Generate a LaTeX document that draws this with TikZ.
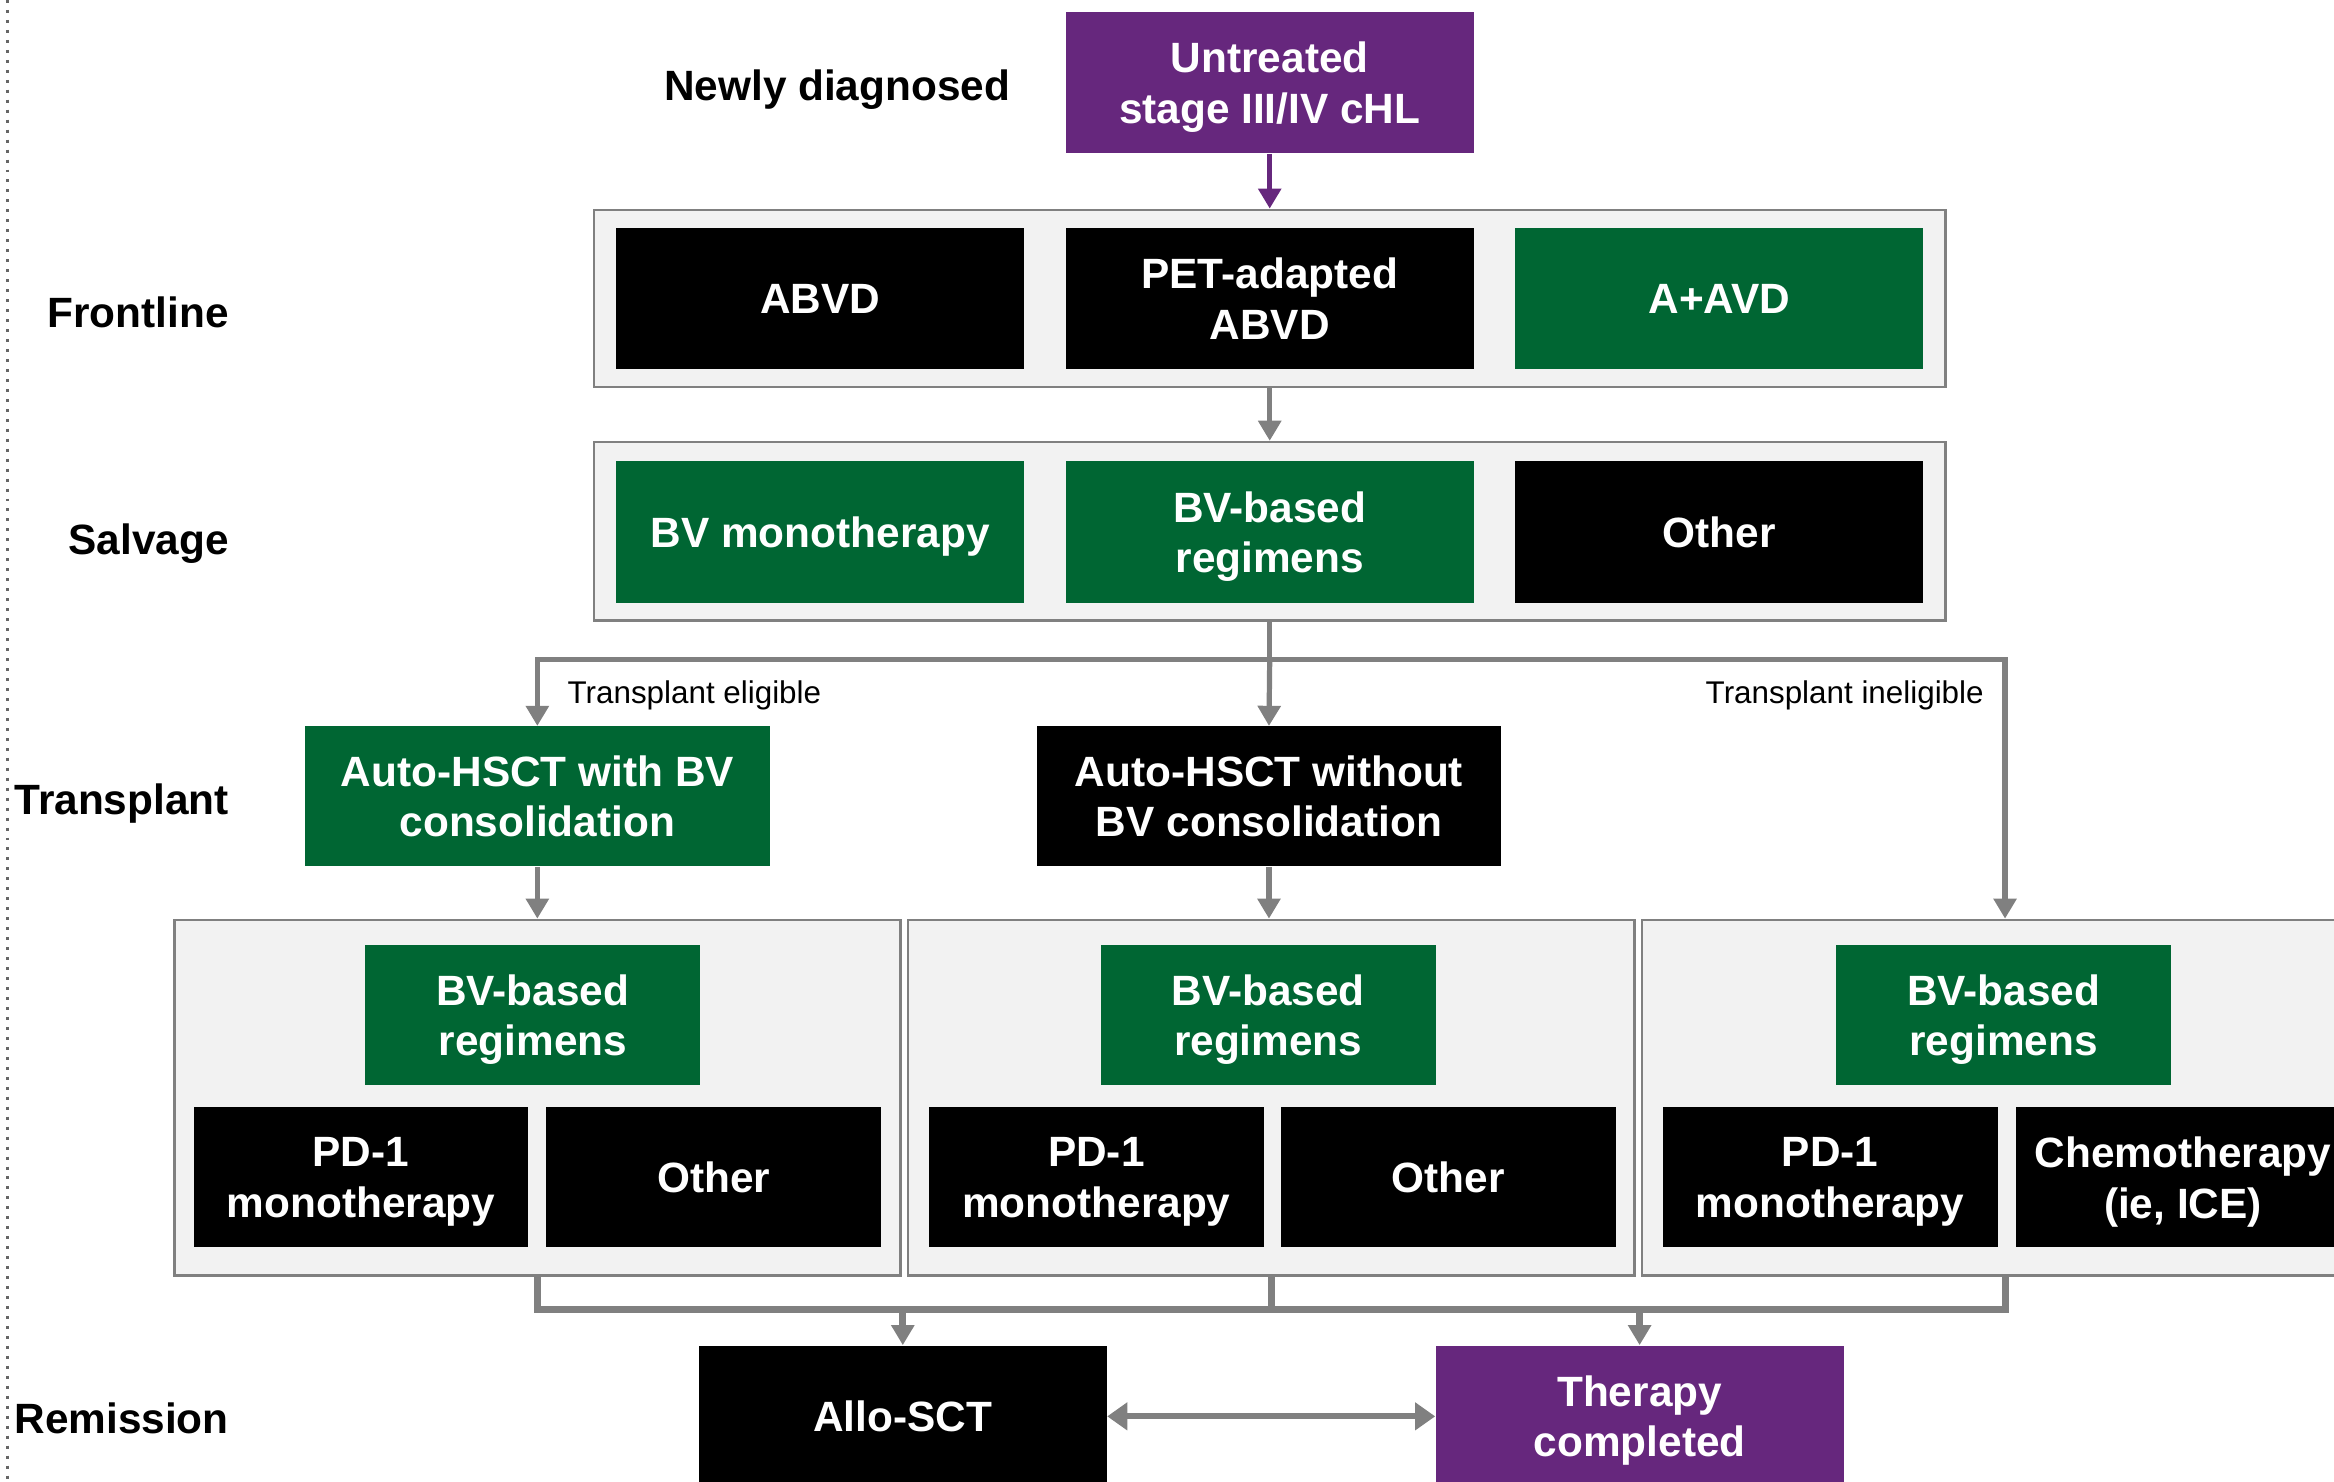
\documentclass[tikz,border=0pt]{standalone}
\usepackage{fontspec}
\setmainfont{Liberation Sans}
\usetikzlibrary{arrows.meta}
\definecolor{cpurple}{HTML}{66277D}
\definecolor{cgreen}{HTML}{006633}
\definecolor{cgrey}{HTML}{808080}
\definecolor{cpanel}{HTML}{F2F2F2}
\begin{document}
\begin{tikzpicture}[x=0.02cm,y=-0.02cm,
	every node/.style={inner sep=0pt,align=center},
	box/.style={text=white,font=\fontsize{16.2}{19.3}\selectfont\bfseries,text depth=0pt,minimum height=1.9cm},
	wide/.style={box,minimum width=5.48cm},
	auto/.style={box,minimum width=6.24cm,minimum height=1.88cm},
	small/.style={box,minimum width=4.5cm,minimum height=1.88cm},
	panel/.style={draw=cgrey,line width=0.035cm,fill=cpanel},
	rowlabel/.style={anchor=east,text depth=0pt,font=\fontsize{16.2}{19.3}\selectfont\bfseries},
	note/.style={font=\fontsize{12}{14}\selectfont},
	conn/.style={draw=cgrey,line width=0.07cm},
	arr/.style={conn,-{Triangle[length=0.27cm,width=0.3cm]}},
	thick conn/.style={conn,line width=0.095cm}]
	\useasboundingbox (0,0) rectangle (1568,995);
	\clip (0,0) rectangle (1568,995);
	\draw [black!60,line width=0.04cm,dash pattern=on 0.04cm off 0.094cm] (5,0) -- (5,995);
	\node [rowlabel] (lnew) at (679,57) {Newly diagnosed};
	\node [rowlabel] (lfront) at (154,210) {Frontline};
	\node [rowlabel] (lsalv) at (154,362) {Salvage};
	\node [rowlabel] (ltrans) at (154,537) {Transplant};
	\node [rowlabel] (lrem) at (154,953) {Remission};
	\node [wide,fill=cpurple] (untreated) at (853,55.5) {Untreated\\stage III/IV cHL};
	\node [panel,minimum width=18.16cm,minimum height=2.38cm] (front) at (853,200.5) {};
	\node [wide,fill=black] (abvd) at (551,200.5) {ABVD};
	\node [wide,fill=black] (pet) at (853,200.5) {PET-adapted\\ABVD};
	\node [wide,fill=cgreen] (aavd) at (1155,200.5) {A+AVD};
	\node [panel,minimum width=18.16cm,minimum height=2.4cm] (salv) at (853,357) {};
	\node [wide,fill=cgreen] (bvmono) at (551,357.5) {BV monotherapy};
	\node [wide,fill=cgreen] (bvsalv) at (853,357.5) {BV-based\\regimens};
	\node [wide,fill=black] (othsalv) at (1155,357.5) {Other};
	\node [auto,fill=cgreen] (autobv) at (361,535) {Auto-HSCT with BV\\consolidation};
	\node [auto,fill=black] (autonobv) at (852.5,535) {Auto-HSCT without\\BV consolidation};
	\node [panel,minimum width=9.76cm,minimum height=4.78cm] (pa) at (361,737.5) {};
	\node [panel,minimum width=9.76cm,minimum height=4.78cm] (pb) at (854,737.5) {};
	\node [panel,minimum width=9.76cm,minimum height=4.78cm] (pc) at (1347,737.5) {};
	\node [small,fill=cgreen] (bva) at (358,682) {BV-based\\regimens};
	\node [small,fill=black] (pda) at (242.5,791) {PD-1\\monotherapy};
	\node [small,fill=black] (otha) at (479.5,791) {Other};
	\node [small,fill=cgreen] (bvb) at (852,682) {BV-based\\regimens};
	\node [small,fill=black] (pdb) at (736.5,791) {PD-1\\monotherapy};
	\node [small,fill=black] (othb) at (973,791) {Other};
	\node [small,fill=cgreen] (bvc) at (1346,682) {BV-based\\regimens};
	\node [small,fill=black] (pdc) at (1229.5,791) {PD-1\\monotherapy};
	\node [small,fill=black] (chemo) at (1466.5,791) {Chemotherapy\\(ie, ICE)};
	\node [wide,fill=black] (allo) at (606.5,951.5) {Allo-SCT};
	\node [wide,fill=cpurple] (done) at (1101.5,951.5) {Therapy\\completed};
	\draw [arr,draw=cpurple] (untreated) -- (front);
	\draw [arr] (front) -- (salv);
	\coordinate (split) at (853,443);
	\coordinate (join) at (853,880);
	\draw [conn] (salv) -- (split);
	\draw [arr] (split) -| (autobv);
	\draw [arr] (split) -- (autonobv.north);
	\draw [arr] (split) -| (pc.north);
	\node [note,anchor=west] (elig) at (381,467) {Transplant eligible};
	\node [note,anchor=east] (inelig) at (1333,467) {Transplant ineligible};
	\draw [arr] (autobv.south) -- (autobv.south |- pa.north);
	\draw [arr] (autonobv.south) -- (autonobv.south |- pb.north);
	\draw [thick conn] (pa.south) |- (pc.south |- join) -- (pc.south);
	\draw [thick conn] (pb.south) -- (pb.south |- join);
	\draw [arr,thick conn] (allo.north |- join) -- (allo.north);
	\draw [arr,thick conn] (done.north |- join) -- (done.north);
	\draw [arr,line width=0.08cm,{Triangle[length=0.27cm,width=0.36cm]}-{Triangle[length=0.27cm,width=0.36cm]}] (allo) -- (done);
\end{tikzpicture}
\end{document}
